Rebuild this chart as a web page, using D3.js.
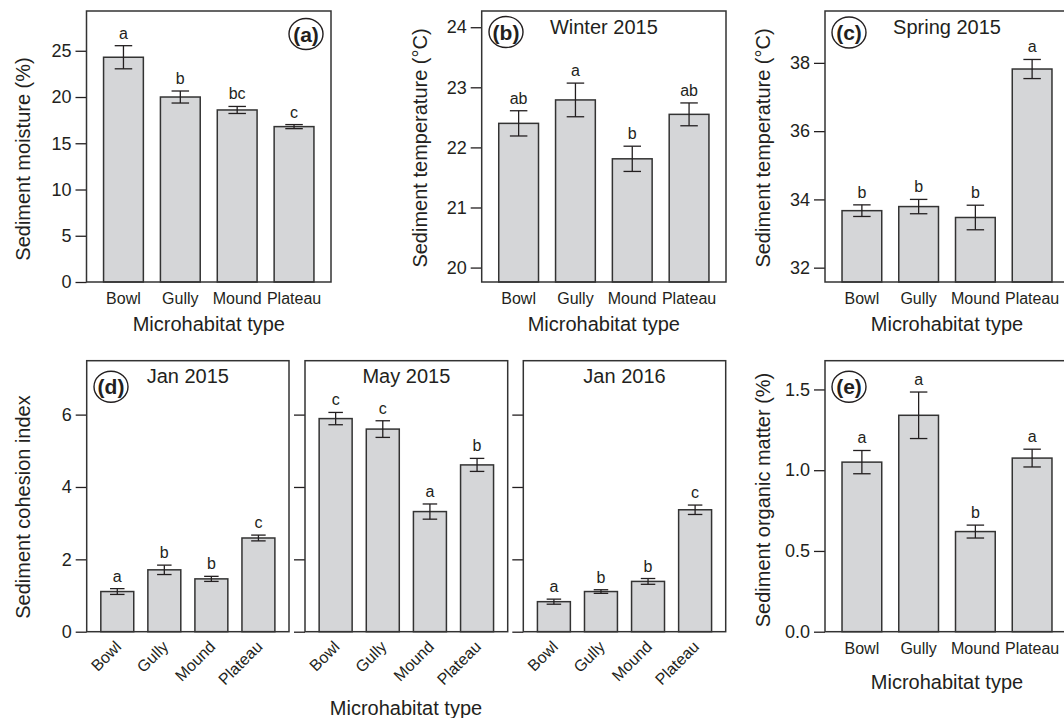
<!DOCTYPE html>
<html>
<head>
<meta charset="utf-8">
<script src="https://cdn.jsdelivr.net/npm/d3@7"></script>
<style>
    body { margin: 0; background: #fff; }
    svg { display: block; font-family: "Liberation Sans", Arial, sans-serif; }
</style>
</head>
<body>
<div id="container"><svg></svg></div>
<script>
// categories
const habitats = ['Bowl', 'Gully', 'Mound', 'Plateau'];

// (a) sediment moisture (%)
const moisture = [24.3, 20.0, 18.6, 16.8];
const moistureSE = [1.25, 0.65, 0.38, 0.22];
const moistureLetters = ['a', 'b', 'bc', 'c'];
const moistureTicks = [0, 5, 10, 15, 20, 25];

// (b) sediment temperature, winter 2015
const winterTemp = [22.40, 22.79, 21.81, 22.55];
const winterSE = [0.21, 0.28, 0.21, 0.19];
const winterLetters = ['ab', 'a', 'b', 'ab'];
const winterTicks = [20, 21, 22, 23, 24];

// (c) sediment temperature, spring 2015
const springTemp = [33.67, 33.79, 33.47, 37.82];
const springSE = [0.17, 0.21, 0.36, 0.28];
const springLetters = ['b', 'b', 'b', 'a'];
const springTicks = [32, 34, 36, 38];

// (d) sediment cohesion index
const cohesionJan15 = [1.11, 1.71, 1.46, 2.59];
const cohesionJan15SE = [0.08, 0.13, 0.07, 0.08];
const cohesionJan15Letters = ['a', 'b', 'b', 'c'];
const cohesionMay15 = [5.89, 5.60, 3.32, 4.61];
const cohesionMay15SE = [0.17, 0.23, 0.21, 0.18];
const cohesionMay15Letters = ['c', 'c', 'a', 'b'];
const cohesionJan16 = [0.83, 1.11, 1.39, 3.37];
const cohesionJan16SE = [0.07, 0.05, 0.08, 0.13];
const cohesionJan16Letters = ['a', 'b', 'b', 'c'];
const cohesionTicks = [0, 2, 4, 6];

// (e) sediment organic matter (%)
const organic = [1.05, 1.34, 0.62, 1.075];
const organicSE = [0.072, 0.144, 0.04, 0.055];
const organicLetters = ['a', 'a', 'b', 'a'];
const organicTicks = [0, 0.5, 1.0, 1.5];

const ink = '#231f20';
const barFill = '#d5d6d8';

let svg = d3.select('#container').select('svg')
    .attr('width', 1064)
    .attr('height', 718);

function draw_panel(cfg) {
    let x = d3.scaleBand()
        .domain(habitats)
        .range([cfg.x0, cfg.x1])
        .paddingInner(0.3)
        .paddingOuter(0.3);
    let y = d3.scaleLinear()
        .domain(cfg.domain)
        .range([cfg.y1, cfg.y0]);
    let g = svg.append('g');

    // y axis (ticks outside the frame)
    let axis_y = d3.axisLeft(y)
        .tickValues(cfg.ticks)
        .tickSize(11)
        .tickPadding(4)
        .tickFormat(cfg.fmt || (d => d));
    let ag = g.append('g')
        .attr('transform', `translate(${cfg.x0}, 0)`)
        .call(axis_y);
    ag.select('.domain').remove();
    ag.selectAll('line').attr('stroke', ink).attr('stroke-width', 1.3);
    ag.selectAll('text')
        .attr('fill', ink)
        .attr('font-size', '18px')
        .attr('font-family', '"Liberation Sans", Arial, sans-serif');
    if (cfg.noTickLabels) ag.selectAll('text').remove();

    let rows = habitats.map((h, i) => ({ h: h, v: cfg.values[i], se: cfg.se[i], l: cfg.letters[i] }));
    let bw = x.bandwidth();
    let cap = bw * 0.22;

    // bars
    g.selectAll('rect.bar')
        .data(rows)
        .enter().append('rect')
        .attr('class', 'bar')
        .attr('x', d => x(d.h))
        .attr('y', d => y(d.v))
        .attr('width', bw)
        .attr('height', d => cfg.y1 - y(d.v))
        .attr('fill', barFill)
        .attr('stroke', '#333')
        .attr('stroke-width', 1.5);

    // error bars
    let eb = g.selectAll('g.err')
        .data(rows)
        .enter().append('g')
        .attr('class', 'err')
        .attr('stroke', ink)
        .attr('stroke-width', 1.3);
    eb.append('line')
        .attr('x1', d => x(d.h) + bw / 2).attr('x2', d => x(d.h) + bw / 2)
        .attr('y1', d => y(d.v - d.se)).attr('y2', d => y(d.v + d.se));
    eb.append('line')
        .attr('x1', d => x(d.h) + bw / 2 - cap).attr('x2', d => x(d.h) + bw / 2 + cap)
        .attr('y1', d => y(d.v + d.se)).attr('y2', d => y(d.v + d.se));
    eb.append('line')
        .attr('x1', d => x(d.h) + bw / 2 - cap).attr('x2', d => x(d.h) + bw / 2 + cap)
        .attr('y1', d => y(d.v - d.se)).attr('y2', d => y(d.v - d.se));

    // significance letters
    g.selectAll('text.letter')
        .data(rows)
        .enter().append('text')
        .attr('class', 'letter')
        .attr('x', d => x(d.h) + bw / 2)
        .attr('y', d => y(d.v + d.se) - 7)
        .attr('text-anchor', 'middle')
        .attr('font-size', '16px')
        .attr('fill', ink)
        .text(d => d.l);

    // frame
    g.append('rect')
        .attr('x', cfg.x0).attr('y', cfg.y0)
        .attr('width', cfg.x1 - cfg.x0).attr('height', cfg.y1 - cfg.y0)
        .attr('fill', 'none')
        .attr('stroke', '#333')
        .attr('stroke-width', 1.5);

    // x tick labels
    if (cfg.rotate) {
        g.selectAll('text.xlab')
            .data(habitats)
            .enter().append('text')
            .attr('class', 'xlab')
            .attr('transform', d => `translate(${x(d) + bw / 2 + 5}, ${cfg.y1 + 16}) rotate(-45)`)
            .attr('text-anchor', 'end')
            .attr('font-size', '16px')
            .attr('fill', ink)
            .text(d => d);
    } else {
        g.selectAll('text.xlab')
            .data(habitats)
            .enter().append('text')
            .attr('class', 'xlab')
            .attr('x', d => x(d) + bw / 2)
            .attr('y', cfg.y1 + 22)
            .attr('text-anchor', 'middle')
            .attr('font-size', '16px')
            .attr('fill', ink)
            .text(d => d);
    }

    if (cfg.title) {
        g.append('text')
            .attr('x', (cfg.x0 + cfg.x1) / 2)
            .attr('y', cfg.y0 + cfg.titleDy)
            .attr('text-anchor', 'middle')
            .attr('font-size', '20px')
            .attr('fill', ink)
            .text(cfg.title);
    }

    if (cfg.tag) {
        let t = g.append('g').attr('transform', `translate(${cfg.tag[1]}, ${cfg.tag[2]})`);
        t.append('ellipse')
            .attr('rx', 17).attr('ry', 15.5)
            .attr('fill', 'none')
            .attr('stroke', ink)
            .attr('stroke-width', 1.4);
        t.append('text')
            .attr('text-anchor', 'middle')
            .attr('dy', '0.36em')
            .attr('font-size', '21px')
            .attr('font-weight', 'bold')
            .attr('fill', ink)
            .text(cfg.tag[0]);
    }

    if (cfg.ylabel) {
        g.append('text')
            .attr('transform', `translate(${cfg.ylabel[1]}, ${cfg.ylabel[2]}) rotate(-90)`)
            .attr('text-anchor', 'middle')
            .attr('dy', '0.35em')
            .attr('font-size', '20px')
            .attr('fill', ink)
            .text(cfg.ylabel[0]);
    }
    if (cfg.xlabel) {
        g.append('text')
            .attr('x', cfg.xlabel[1])
            .attr('y', cfg.xlabel[2])
            .attr('text-anchor', 'middle')
            .attr('font-size', '20px')
            .attr('fill', ink)
            .text(cfg.xlabel[0]);
    }
    return { x: x, y: y };
}

const fmt1 = d3.format('.1f');

// top row
draw_panel({
    x0: 86.5, x1: 331, y0: 11, y1: 282, domain: [0, 29.3], ticks: moistureTicks,
    values: moisture, se: moistureSE, letters: moistureLetters,
    tag: ['(a)', 306, 34],
    ylabel: ['Sediment moisture (%)', 23, 159],
    xlabel: ['Microhabitat type', 208.8, 331]
});
draw_panel({
    x0: 481.7, x1: 726, y0: 11, y1: 282, domain: [19.76, 24.27], ticks: winterTicks,
    values: winterTemp, se: winterSE, letters: winterLetters,
    title: 'Winter 2015', titleDy: 23,
    tag: ['(b)', 506, 32],
    ylabel: ['Sediment temperature (°C)', 420, 148],
    xlabel: ['Microhabitat type', 603.8, 331]
});
draw_panel({
    x0: 825, x1: 1069, y0: 11, y1: 282, domain: [31.58, 39.52], ticks: springTicks,
    values: springTemp, se: springSE, letters: springLetters,
    title: 'Spring 2015', titleDy: 23,
    tag: ['(c)', 849, 32.5],
    ylabel: ['Sediment temperature (°C)', 763, 148],
    xlabel: ['Microhabitat type', 947, 331]
});

// bottom row - cohesion, three dates
draw_panel({
    x0: 86.7, x1: 289, y0: 360.7, y1: 631.7, domain: [0, 7.49], ticks: cohesionTicks,
    values: cohesionJan15, se: cohesionJan15SE, letters: cohesionJan15Letters,
    rotate: true, title: 'Jan 2015', titleDy: 22,
    tag: ['(d)', 111, 386.7],
    ylabel: ['Sediment cohesion index', 23, 507]
});
draw_panel({
    x0: 305, x1: 507.7, y0: 360.7, y1: 631.7, domain: [0, 7.49], ticks: cohesionTicks,
    values: cohesionMay15, se: cohesionMay15SE, letters: cohesionMay15Letters,
    rotate: true, title: 'May 2015', titleDy: 22, noTickLabels: true,
    xlabel: ['Microhabitat type', 406, 715]
});
draw_panel({
    x0: 523.3, x1: 725.7, y0: 360.7, y1: 631.7, domain: [0, 7.49], ticks: cohesionTicks,
    values: cohesionJan16, se: cohesionJan16SE, letters: cohesionJan16Letters,
    rotate: true, title: 'Jan 2016', titleDy: 22, noTickLabels: true
});

// (e) organic matter
draw_panel({
    x0: 825, x1: 1069, y0: 360.7, y1: 631.7, domain: [0, 1.678], ticks: organicTicks, fmt: fmt1,
    values: organic, se: organicSE, letters: organicLetters,
    tag: ['(e)', 849, 386.7],
    ylabel: ['Sediment organic matter (%)', 763, 500],
    xlabel: ['Microhabitat type', 947, 689]
});
</script>
</body>
</html>
